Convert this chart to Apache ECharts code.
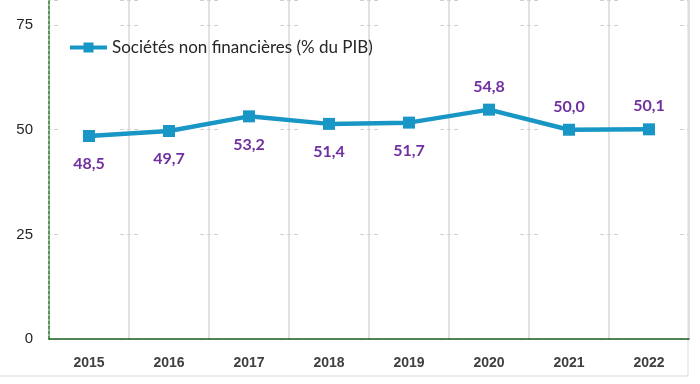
<!DOCTYPE html>
<html><head><meta charset="utf-8">
<script src="https://cdn.jsdelivr.net/npm/echarts@6/dist/echarts.min.js"></script>
<style>html,body{margin:0;padding:0;background:#fff}#c{width:700px;height:384px}</style>
</head><body><div id="c"></div>
<script>
const categories = ['2015','2016','2017','2018','2019','2020','2021','2022'];
const values = [48.5, 49.7, 53.2, 51.4, 51.7, 54.8, 50.0, 50.1];
const labelPositions = ['bottom','bottom','bottom','bottom','bottom','top','top','top'];
const seriesName = 'Sociétés non financières (% du PIB)';
const yTicks = [0, 25, 50, 75];

const chart = echarts.init(document.getElementById('c'));
chart.setOption({
  animation: false,
  backgroundColor: '#fff',
  grid: { left: 49, right: 11, top: 0, bottom: 45 },
  legend: {
    left: 70, top: 39, padding: 0,
    itemWidth: 37, itemHeight: 10, itemGap: 10,
    icon: 'path://M0,3H37V7H0Z M13.5,0H23.5V10H13.5Z',
    textStyle: { fontFamily: 'Lato', fontSize: 17, color: '#262626' },
    data: [seriesName]
  },
  graphic: [
    { type: 'line', shape: { x1: 688, y1: 0, x2: 688, y2: 376 }, style: { stroke: '#d9d9d9', lineWidth: 1 } },
    { type: 'line', shape: { x1: 0, y1: 376, x2: 688, y2: 376 }, style: { stroke: '#d9d9d9', lineWidth: 1 } }
  ],
  xAxis: {
    type: 'category', data: categories, boundaryGap: true,
    axisLine: { lineStyle: { color: '#1d5e1d', width: 1.5 } },
    axisTick: { show: false },
    axisLabel: { fontFamily: 'Liberation Sans', fontWeight: 'bold', fontSize: 14, color: '#404040', margin: 17 },
    splitLine: { show: true, interval: 0, lineStyle: { color: '#d9d9d9', width: 1.5 } }
  },
  yAxis: {
    type: 'value', min: 0, max: 81, interval: 25,
    axisLine: { show: true, lineStyle: { color: '#2e7d2e', type: [3, 2], width: 1.5 } },
    axisTick: { show: false },
    axisLabel: {
      fontFamily: 'Liberation Sans', fontSize: 15, color: '#262626', margin: 16,
      showMaxLabel: false,
      formatter: v => yTicks.includes(v) ? String(v) : ''
    },
    splitLine: { show: true, lineStyle: { color: '#cfcfcf', width: 1.2, type: [4, 3, 4, 3, 4, 62], dashOffset: 9 } }
  },
  series: [{
    name: seriesName, type: 'line', data: values.map((v, i) => ({
      value: v,
      label: { position: labelPositions[i], distance: labelPositions[i] === 'top' ? 9 : 14 }
    })),
    color: '#1897c6',
    lineStyle: { width: 4.5, color: '#1897c6' },
    symbol: 'rect', symbolSize: 12,
    itemStyle: { color: '#1897c6' },
    label: {
      show: true, fontFamily: 'Lato', fontWeight: 'bold', fontSize: 16, color: '#7030a0',
      formatter: p => p.value.toFixed(1).replace('.', ',')
    }
  }]
});
</script></body></html>
